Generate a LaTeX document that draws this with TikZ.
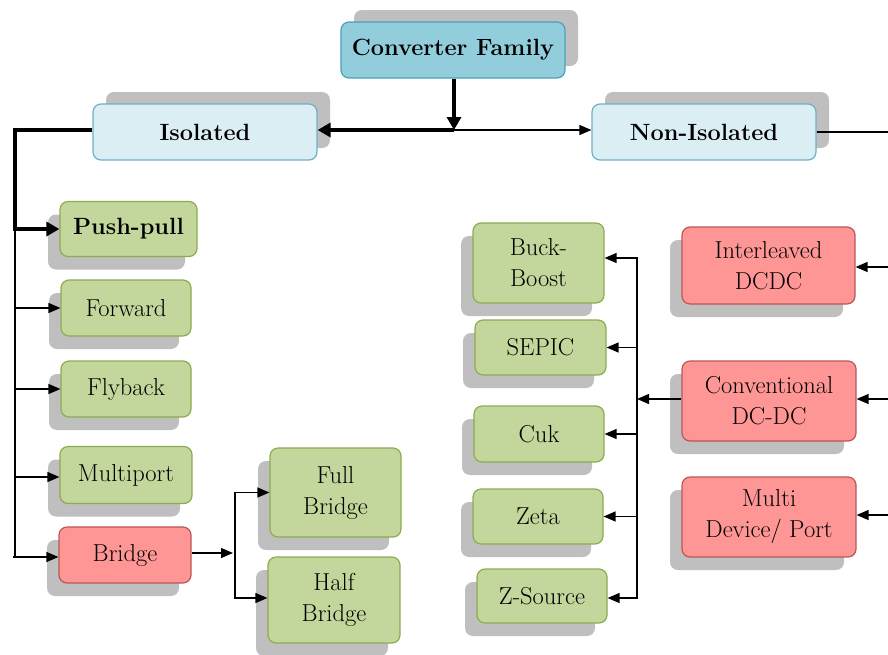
\documentclass[tikz,border=0pt]{standalone}
\usetikzlibrary{arrows.meta,shadows,calc}

\definecolor{shadowgray}{RGB}{191,191,191}
\definecolor{rootfill}{RGB}{146,205,220}
\definecolor{rootline}{RGB}{75,160,185}
\definecolor{catfill}{RGB}{218,238,243}
\definecolor{catline}{RGB}{110,175,200}
\definecolor{leaffill}{RGB}{195,214,155}
\definecolor{leafline}{RGB}{140,172,82}
\definecolor{groupfill}{RGB}{255,150,150}
\definecolor{groupline}{RGB}{190,85,85}

\begin{document}
\begin{tikzpicture}[x=1pt,y=-1pt,
  box/.style={rectangle, rounded corners=8pt, line width=1.2pt, align=center,
    inner sep=0pt, text=black, font=\fontsize{24.5}{31}\selectfont},
  boldtext/.style={font=\fontsize{23.5}{31}\selectfont\bfseries},
  upshadow/.style={drop shadow={shadow xshift=13pt, shadow yshift=12pt,
    fill=shadowgray, opacity=1}},
  downshadow/.style={drop shadow={shadow xshift=-12pt, shadow yshift=-13pt,
    fill=shadowgray, opacity=1}},
  rootbox/.style={box, upshadow, fill=rootfill, draw=rootline, boldtext},
  catbox/.style={box, upshadow, fill=catfill, draw=catline, boldtext},
  leafbox/.style={box, downshadow, fill=leaffill, draw=leafline},
  groupbox/.style={box, downshadow, fill=groupfill, draw=groupline},
  thin/.style={line width=1.3pt},
  thick/.style={line width=4pt},
  thinarrow/.style={thin, -{Triangle[length=12pt,width=10pt]}},
  thickarrow/.style={thick, -{Triangle[length=13pt,width=14pt]}},
]
\useasboundingbox (0,0) rectangle (888,654);

% top levels
\node[rootbox, minimum width=224pt, minimum height=56pt] (cf) at (453,50) {Converter Family};
\node[catbox, minimum width=224pt, minimum height=56pt] (iso) at (205,132) {Isolated};
\node[catbox, minimum width=224pt, minimum height=56pt] (non) at (704,132) {Non-Isolated};

% isolated branch
\node[leafbox, boldtext, minimum width=137pt, minimum height=55pt] (pp) at (128.5,229) {Push-pull};
\node[leafbox, minimum width=130pt, minimum height=56pt] (fw) at (126,308) {Forward};
\node[leafbox, minimum width=130pt, minimum height=56pt] (fb) at (126,389) {Flyback};
\node[leafbox, minimum width=132pt, minimum height=57pt] (mp) at (126,475) {Multiport};
\node[groupbox, minimum width=132pt, minimum height=56pt] (br) at (125,555) {Bridge};
\node[leafbox, minimum width=131pt, minimum height=89pt] (fbr) at (335.5,492.5) {Full\\Bridge};
\node[leafbox, minimum width=132pt, minimum height=86pt] (hbr) at (334,600) {Half\\Bridge};

% non-isolated branch
\node[leafbox, minimum width=131pt, minimum height=80pt] (bb) at (538.5,263) {Buck-\\Boost};
\node[leafbox, minimum width=131pt, minimum height=55pt] (sep) at (540.5,347.5) {SEPIC};
\node[leafbox, minimum width=130pt, minimum height=56pt] (cuk) at (539,434) {Cuk};
\node[leafbox, minimum width=130pt, minimum height=55pt] (zeta) at (538,516.5) {Zeta};
\node[leafbox, minimum width=130pt, minimum height=54pt] (zs) at (542,596) {Z-Source};
\node[groupbox, minimum width=173pt, minimum height=77pt] (il) at (768.5,265.5) {Interleaved\\DCDC};
\node[groupbox, minimum width=174pt, minimum height=80pt] (cv) at (769,401) {Conventional\\DC-DC};
\node[groupbox, minimum width=174pt, minimum height=80pt] (md) at (769,517) {Multi\\Device/ Port};

% junctions and free ends
\coordinate (j) at (454,130);
\coordinate (lt) at (15,130);
\coordinate (lb) at (15,557);
\coordinate (bj) at (235,553);
\coordinate (rt) at (637,399);
\coordinate (nout) at (888,132);
\coordinate (ilin) at (888,267);
\coordinate (cvin) at (888,399);
\coordinate (mdin) at (888,515);

% root to categories
\draw[thickarrow] (cf.south -| j) -- (j);
\draw[thickarrow] (j) -- (iso.east |- j);
\draw[thinarrow] (j) -- (non.west |- j);

% isolated tree
\draw[thickarrow] (iso.west |- lt) -- (lt) |- (pp.west);
\draw[thin] (lt |- pp.west) -- (lb);
\draw[thinarrow] (lt) |- (fw.west);
\draw[thinarrow] (lt) |- (fb.west);
\draw[thinarrow] (lt) |- ([yshift=-2pt]mp.west);
\draw[thinarrow] ([xshift=-2pt]lb) -- (br.west |- lb);
\draw[thinarrow] (br.east |- bj) -- ([xshift=-2pt]bj);
\draw[thinarrow] (bj) |- (fbr.west);
\draw[thinarrow] (bj) |- ([yshift=2pt]hbr.west);

% non-isolated tree
\draw[thin] (non.east) -- (nout);
\draw[thinarrow] (ilin) -- (il.east |- ilin);
\draw[thinarrow] (cvin) -- (cv.east |- cvin);
\draw[thinarrow] (mdin) -- (md.east |- mdin);
\draw[thinarrow] (cv.west |- rt) -- (rt);
\draw[thinarrow] (rt) |- ([yshift=5pt]bb.east);
\draw[thinarrow] (rt) |- (sep.east);
\draw[thinarrow] (rt) |- (cuk.east);
\draw[thinarrow] (rt) |- (zeta.east);
\draw[thinarrow] (rt) |- ([yshift=-2pt]zs.east);
\end{tikzpicture}
\end{document}
